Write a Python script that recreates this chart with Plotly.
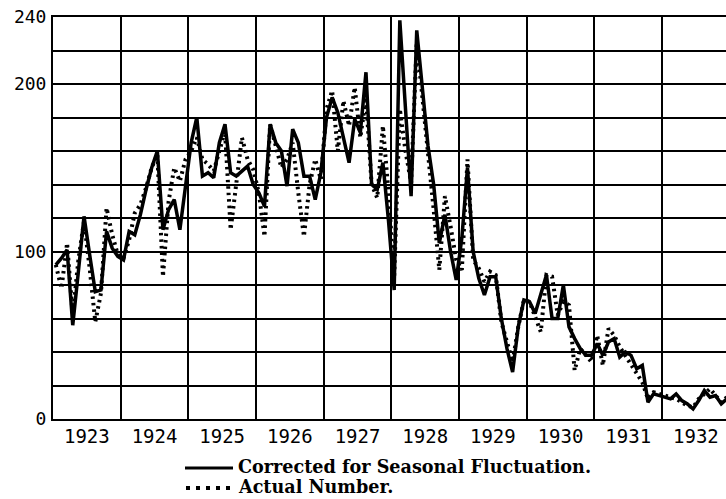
import plotly.graph_objects as go

years = [1923, 1924, 1925, 1926, 1927, 1928, 1929, 1930, 1931, 1932]
year_labels = [str(y) for y in years]

# Corrected for seasonal fluctuation (monthly, Jan..Dec)
corrected_1923 = [92, 96, 101, 56, 88, 121, 98, 76, 77, 112, 102, 97]
corrected_1924 = [95, 112, 110, 122, 137, 150, 160, 113, 125, 131, 113, 139]
corrected_1925 = [165, 180, 145, 147, 144, 165, 176, 147, 145, 148, 151, 140]
corrected_1926 = [135, 127, 176, 165, 160, 139, 173, 165, 145, 145, 131, 147]
corrected_1927 = [180, 192, 183, 168, 153, 179, 171, 207, 140, 137, 153, 118]
corrected_1928 = [77, 238, 185, 133, 232, 195, 163, 140, 105, 122, 100, 83]
corrected_1929 = [108, 150, 100, 84, 74, 85, 85, 60, 42, 28, 55, 71]
corrected_1930 = [70, 63, 75, 86, 60, 60, 80, 55, 48, 42, 38, 38]
corrected_1931 = [45, 38, 46, 48, 37, 40, 38, 30, 32, 10, 15, 14]
corrected_1932 = [13, 12, 15, 11, 9, 6, 11, 17, 13, 14, 9, 12]

# Actual number (monthly, Jan..Dec)
actual_1923 = [92, 78, 105, 62, 95, 118, 90, 58, 75, 126, 110, 98]
actual_1924 = [96, 107, 123, 128, 138, 150, 158, 85, 130, 150, 142, 155]
actual_1925 = [160, 168, 155, 152, 148, 160, 172, 113, 140, 168, 155, 149]
actual_1926 = [135, 109, 176, 163, 150, 155, 165, 135, 109, 140, 155, 143]
actual_1927 = [185, 196, 160, 190, 175, 198, 168, 192, 140, 132, 175, 135]
actual_1928 = [85, 185, 160, 141, 225, 192, 160, 125, 89, 133, 115, 95]
actual_1929 = [89, 155, 95, 90, 82, 88, 86, 58, 46, 34, 55, 71]
actual_1930 = [70, 61, 52, 86, 85, 62, 70, 68, 29, 42, 38, 34]
actual_1931 = [50, 32, 54, 50, 43, 38, 33, 28, 22, 12, 16, 15]
actual_1932 = [14, 13, 12, 10, 8, 7, 12, 15, 18, 14, 10, 13]

y_tick_values = [0, 100, 200, 240]
y_grid_values = list(range(0, 241, 20))

corrected = (corrected_1923 + corrected_1924 + corrected_1925 + corrected_1926 +
             corrected_1927 + corrected_1928 + corrected_1929 + corrected_1930 +
             corrected_1931 + corrected_1932)
actual = (actual_1923 + actual_1924 + actual_1925 + actual_1926 + actual_1927 +
          actual_1928 + actual_1929 + actual_1930 + actual_1931 + actual_1932)
months_x = [y + (m + 0.5) / 12 for y in years for m in range(12)]

fig = go.Figure()
fig.add_trace(go.Scatter(x=months_x, y=actual, mode="lines",
                         line=dict(color="black", width=4, dash="2.5px,4px"),
                         name="Actual Number.", showlegend=False))
fig.add_trace(go.Scatter(x=months_x, y=corrected, mode="lines",
                         line=dict(color="black", width=3.5),
                         name="Corrected for Seasonal Fluctuation.", showlegend=False))

x_tick_font = dict(family="DejaVu Sans Mono", size=19, color="black")
y_tick_font = dict(family="DejaVu Sans Mono", size=18, color="black")

fig.update_xaxes(
    range=[1923, 1932.945], automargin=False,
    tickvals=[y + 0.5 for y in years], ticktext=year_labels,
    showgrid=False, ticks="", tickfont=x_tick_font, ticklabelstandoff=-1,
    minor=dict(tickvals=years, showgrid=True, gridcolor="black", gridwidth=2, ticks=""),
    showline=True, linecolor="black", linewidth=2, mirror=True, zeroline=False,
)
fig.update_yaxes(
    range=[0, 240], automargin=False,
    tickvals=y_tick_values, ticktext=[str(v) for v in y_tick_values],
    showgrid=True, gridcolor="black", gridwidth=2, ticks="", tickfont=y_tick_font,
    ticklabelstandoff=1, ticklabeloverflow="allow",
    minor=dict(tickvals=y_grid_values, showgrid=True, gridcolor="black", gridwidth=2, ticks=""),
    showline=True, linecolor="black", linewidth=2, zeroline=False,
)

# page body margin is removed by the post script, so page pixels == figure pixels
FIG_W, FIG_H = 726, 499
L, T, W, H = 53, 17, 673, 402
def px(xp):
    return (xp - L) / W
def py(yp):
    return (T + H - yp) / H

legend_font = dict(family="DejaVu Serif", size=17.6, color="black")
fig.add_shape(type="line", xref="paper", yref="paper", x0=px(185), x1=px(233),
              y0=py(468), y1=py(468), line=dict(color="black", width=3))
fig.add_shape(type="line", xref="paper", yref="paper", x0=px(186), x1=px(233),
              y0=py(488), y1=py(488), line=dict(color="black", width=4, dash="4px,6px"))
fig.add_annotation(xref="paper", yref="paper", x=px(236), y=py(467), xanchor="left",
                   yanchor="middle", showarrow=False,
                   text="<b>Corrected for Seasonal Fluctuation.</b>", font=legend_font)
fig.add_annotation(xref="paper", yref="paper", x=px(236), y=py(486), xanchor="left",
                   yanchor="middle", showarrow=False,
                   text="<b>Actual Number.</b>", font=legend_font)

fig.update_layout(
    width=FIG_W, height=FIG_H,
    margin=dict(l=L, r=0, t=T, b=FIG_H - T - H),
    paper_bgcolor="white", plot_bgcolor="white",
    showlegend=False,
)
fig.write_html("out.html", config={"displayModeBar": False},
               post_script="document.body.style.margin='0';document.body.style.overflow='hidden';")
